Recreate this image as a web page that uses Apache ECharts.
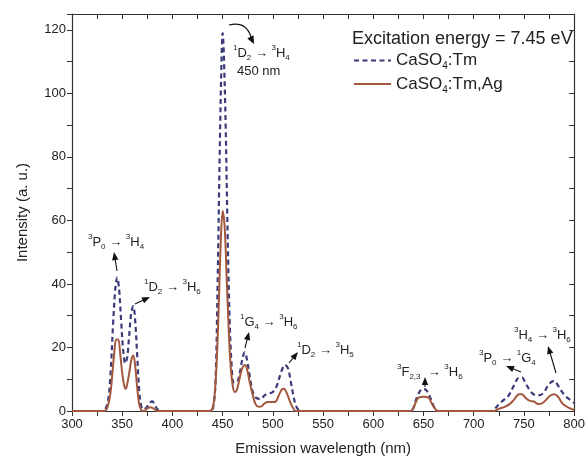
<!DOCTYPE html>
<html><head><meta charset="utf-8">
<script src="https://cdn.jsdelivr.net/npm/echarts@6/dist/echarts.min.js"></script>
<style>html,body{margin:0;padding:0;background:#fff}#c{width:588px;height:466px}</style>
</head><body><div id="c"></div>
<script>
// ---- data ----
const seriesNames = ['CaSO4:Tm', 'CaSO4:Tm,Ag'];
const wlTm = [300,330,335,338,341,343,345,347,349,351,353,355,357,359,361,363,365,367,369,371,374,377,380,383,386,390,
  438,441,443,445,447,449,450,451,453,455,457,459,461,464,467,470,472,474,477,480,484,488,492,496,500,504,508,512,515,518,521,524,528,
  637,640,643,647,650,653,657,661,665,718,722,726,730,735,740,745,748,752,757,762,766,770,775,780,784,788,792,796,800];
const intTm = [0,0,2,10,28,38,42,38,28,19,15,17,24,31,33,28,17,6,1.5,0.5,1,2.5,3,1.5,0.3,0,
  0,2,10,40,80,112,119,114,90,55,28,14,9,9,12,17,18.5,16.5,11,6,4,3.8,5,5.5,6,8,12,14.5,13.5,9,4,1,0,
  0,1,4,6.5,7,6.5,4,1,0,0,1,2.5,3.5,5,8,10.5,10.5,8.5,6,5,5,6,8.5,9.5,8,6,4.5,3.5,2.5];
const wlAg = [300,332,335,338,340,342,344,346,348,350,352,353.5,355,357,359,361,363,365,367,369,372,375,378,381,384,386,
  437,440,442,444,446,448,450,452,454,456,458,460,462,464,466,469,472,474,477,480,483,486,489,492,496,500,503,506,509,511,514,517,520,523,
  637,640,642,645,650,655,658,661,664,720,725,730,735,740,745,748,752,756,760,764,768,772,776,780,784,788,792,796,800];
const intAg = [0,0,1,5,11,18,22.5,22.5,18,12,8,7,8.5,12,16,17.5,14,7,2,0.3,0,0.8,1.2,0.8,0.1,0,
  0,1,5,15,32,52,63,58,42,26,14,8,6,6.5,9,13,14.5,13.5,9,5,2,1.3,1.5,2.5,2.8,2.8,3,5,6.8,7,5.5,3,1,0,
  0,1,2.5,4.2,4.5,4.2,2.5,1,0,0,0.7,1.2,2,3.5,5.3,5.3,4,3.2,3,2.2,2.4,3.5,4.8,5.3,4.5,2.5,1.5,0.8,0.3];
const xMin = 300, xMax = 800, xStep = 25, xLabelStep = 50;
const yMin = 0, yMax = 125, yStep = 10, yLabelStep = 20;
const legendTitle = 'Excitation energy = 7.45 eV';

// ---- chart ----
const FONT = 'Liberation Sans, Arial, sans-serif';
const TXT = '#222';
const AX = '#333';
const zip = (a, b) => a.map((v, i) => [v, b[i]]);

const rich = {
  m: {fontSize: 13, lineHeight: 18, fontFamily: FONT, fill: TXT},
  u: {fontSize: 8, lineHeight: 10, verticalAlign: 'top', fontFamily: FONT, fill: TXT},
  d: {fontSize: 8, lineHeight: 10, verticalAlign: 'bottom', fontFamily: FONT, fill: TXT}
};
function ann(text, x, y) {
  return {type: 'text', x: x, y: y, z: 100,
    style: {text: text, rich: rich, align: 'left', verticalAlign: 'middle', fill: TXT, font: '13px ' + FONT}};
}
function head(fx, fy, tx, ty, len, w) {
  len = len || 8; w = w || 3.2;
  const dx = tx - fx, dy = ty - fy, L = Math.hypot(dx, dy), ux = dx / L, uy = dy / L;
  const bx = tx - ux * len, by = ty - uy * len;
  return {type: 'polygon', z: 100, shape: {points: [[tx, ty], [bx - uy * w, by + ux * w], [bx + uy * w, by - ux * w]]},
    style: {fill: '#111'}};
}
function arrow(fx, fy, tx, ty) {
  const dx = tx - fx, dy = ty - fy, L = Math.hypot(dx, dy);
  const ex = tx - dx / L * 6, ey = ty - dy / L * 6;
  return [{type: 'line', z: 100, shape: {x1: fx, y1: fy, x2: ex, y2: ey}, style: {stroke: '#111', lineWidth: 1.1}},
    head(fx, fy, tx, ty)];
}

const graphics = [].concat(
  ann('{u|3}{m|P}{d|0}{m| → }{u|3}{m|H}{d|4}', 88, 242),
  arrow(117, 271, 114, 252),
  ann('{u|1}{m|D}{d|2}{m| → }{u|3}{m|H}{d|6}', 144, 287),
  arrow(135, 304, 150, 297),
  ann('{u|1}{m|G}{d|4}{m| → }{u|3}{m|H}{d|6}', 240, 322),
  arrow(245, 348, 249, 332),
  ann('{u|1}{m|D}{d|2}{m| → }{u|3}{m|H}{d|5}', 297, 350),
  arrow(289, 363, 298, 352),
  ann('{u|3}{m|F}{d|2,3}{m|  → }{u|3}{m|H}{d|6}', 397, 372),
  arrow(425, 387, 425, 377),
  ann('{u|3}{m|P}{d|0}{m| → }{u|1}{m|G}{d|4}', 479, 358),
  arrow(521, 372, 506, 366),
  ann('{u|3}{m|H}{d|4}{m| → }{u|3}{m|H}{d|6}', 514, 335),
  arrow(556, 373, 548, 346),
  ann('{u|1}{m|D}{d|2}{m| → }{u|3}{m|H}{d|4}', 233, 53),
  {type: 'text', x: 237, y: 71, z: 100, style: {text: '450 nm', font: '13px ' + FONT, fill: TXT, verticalAlign: 'middle'}},
  {type: 'bezierCurve', z: 100, shape: {x1: 229, y1: 25, x2: 251, y2: 37, cpx1: 246, cpy1: 21},
    style: {stroke: '#111', lineWidth: 1.2, fill: null}},
  head(246, 28, 254, 44, 8, 3.5)
);

const chart = echarts.init(document.getElementById('c'), null, {renderer: 'canvas'});
const axisCommonX = {type: 'value', min: xMin, max: xMax, interval: xStep, splitLine: {show: false}};
const axisCommonY = {type: 'value', min: yMin, max: yMax, interval: yStep, splitLine: {show: false}};
chart.setOption({
  animation: false,
  backgroundColor: '#fff',
  textStyle: {fontFamily: FONT},
  title: {text: legendTitle, left: 352, top: 30, padding: 0,
    textStyle: {fontSize: 18, fontWeight: 'normal', color: TXT, fontFamily: FONT}},
  legend: {left: 353, top: 52, padding: 0, orient: 'vertical', itemWidth: 37, itemHeight: 14, itemGap: 4,
    data: seriesNames,
    itemStyle: {opacity: 0},
    formatter: n => '{n|' + n.replace('4', '}{s|4}{n|') + '}',
    textStyle: {color: TXT, fontSize: 17, fontFamily: FONT,
      rich: {n: {fontSize: 17, lineHeight: 22, color: TXT, fontFamily: FONT},
             s: {fontSize: 10, lineHeight: 10, verticalAlign: 'bottom', color: TXT, fontFamily: FONT}}}},
  grid: {left: 72, right: 13, top: 14, bottom: 55, containLabel: false},
  xAxis: [
    Object.assign({}, axisCommonX, {position: 'bottom',
      axisLine: {show: true, onZero: false, lineStyle: {color: AX, width: 1.2}},
      axisTick: {show: true, inside: false, length: 5, lineStyle: {color: AX, width: 1}},
      axisLabel: {formatter: v => (v % xLabelStep === 0 ? String(v) : ''), fontSize: 13, color: TXT, margin: 7, fontFamily: FONT},
      name: 'Emission wavelength (nm)', nameLocation: 'middle', nameGap: 30,
      nameTextStyle: {fontSize: 15, color: TXT, fontFamily: FONT}}),
    Object.assign({}, axisCommonX, {position: 'top',
      axisLine: {show: true, onZero: false, lineStyle: {color: AX, width: 1.2}},
      axisTick: {show: true, inside: true, length: 5, lineStyle: {color: AX, width: 1}},
      axisLabel: {show: false}})
  ],
  yAxis: [
    Object.assign({}, axisCommonY, {position: 'left',
      axisLine: {show: true, onZero: false, lineStyle: {color: AX, width: 1.2}},
      axisTick: {show: true, inside: false, length: 5, lineStyle: {color: AX, width: 1}},
      axisLabel: {formatter: v => (v % yLabelStep === 0 && v <= 120 ? String(v) : ''), fontSize: 13, color: TXT, margin: 6, fontFamily: FONT},
      name: 'Intensity (a. u.)', nameLocation: 'middle', nameGap: 42,
      nameTextStyle: {fontSize: 15, color: TXT, fontFamily: FONT}}),
    Object.assign({}, axisCommonY, {position: 'right',
      axisLine: {show: true, onZero: false, lineStyle: {color: AX, width: 1.2}},
      axisTick: {show: true, inside: true, length: 5, lineStyle: {color: AX, width: 1}},
      axisLabel: {show: false}})
  ],
  series: [
    {name: seriesNames[0], type: 'line', xAxisIndex: 0, yAxisIndex: 0, data: zip(wlTm, intTm),
     symbol: 'none', smooth: 0.35, z: 3,
     lineStyle: {color: '#3b3b7b', width: 2.2, type: [5, 3.5]}, itemStyle: {color: '#3b3b7b'}},
    {name: seriesNames[1], type: 'line', xAxisIndex: 0, yAxisIndex: 0, data: zip(wlAg, intAg),
     symbol: 'none', smooth: 0.35, z: 4,
     lineStyle: {color: '#a3573c', width: 2}, itemStyle: {color: '#a3573c'}}
  ],
  graphic: graphics
});
</script>
</body></html>
